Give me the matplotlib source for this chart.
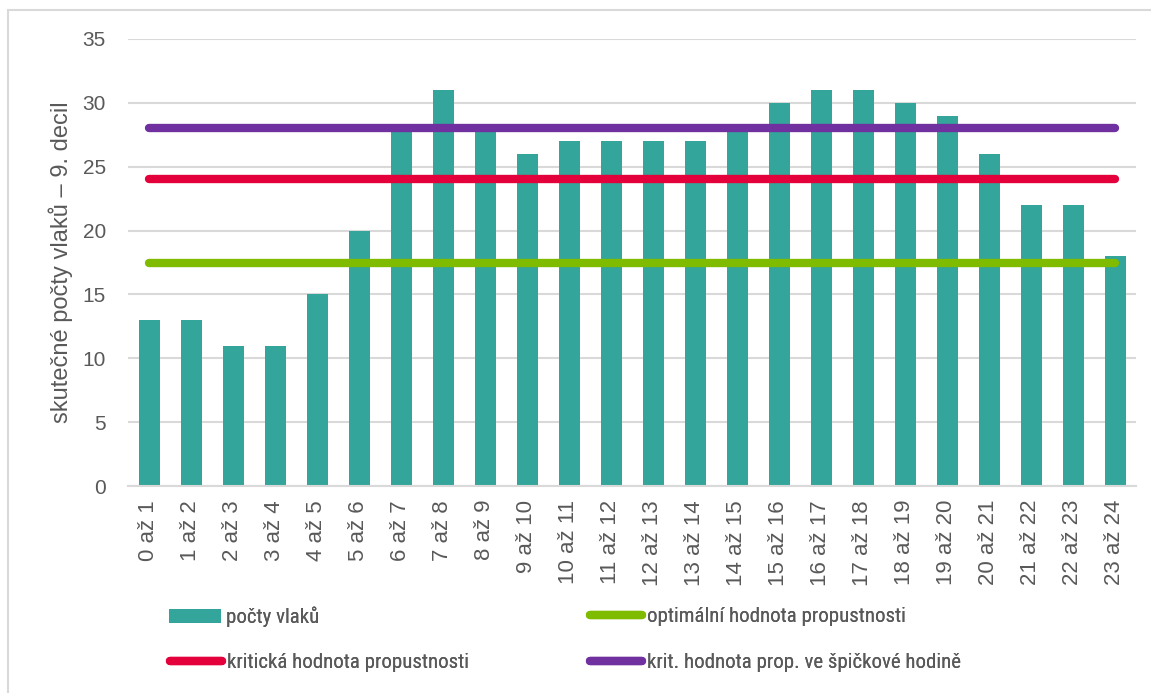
import matplotlib
matplotlib.use("Agg")
import matplotlib.pyplot as plt
from matplotlib.lines import Line2D
from matplotlib.patches import Patch, Rectangle
from matplotlib import font_manager

hours = ["0 až 1", "1 až 2", "2 až 3", "3 až 4", "4 až 5", "5 až 6", "6 až 7", "7 až 8",
         "8 až 9", "9 až 10", "10 až 11", "11 až 12", "12 až 13", "13 až 14", "14 až 15",
         "15 až 16", "16 až 17", "17 až 18", "18 až 19", "19 až 20", "20 až 21", "21 až 22",
         "22 až 23", "23 až 24"]
train_counts = [13, 13, 11, 11, 15, 20, 28, 31, 28, 26, 27, 27, 27, 27, 28,
                30, 31, 31, 30, 29, 26, 22, 22, 18]
optimal_capacity = 17.5
critical_capacity = 24
peak_critical_capacity = 28
y_ticks = [0, 5, 10, 15, 20, 25, 30, 35]

names = {f.name for f in font_manager.fontManager.ttflist}
narrow = "Roboto"
for cand in ["Liberation Sans Narrow", "Roboto Condensed", "DejaVu Sans Condensed"]:
    if cand in names:
        narrow = cand
        break

plt.rcParams["font.family"] = ["Liberation Sans", "DejaVu Sans"]

teal = "#34A59A"
green = "#7FBC00"
red = "#E4003A"
purple = "#7030A0"
grid = "#D9D9D9"
text_c = "#595959"

W, H = 1151, 693
fig = plt.figure(figsize=(W / 100, H / 100), dpi=100)
ax = fig.add_axes([128 / W, 1 - 486 / H, (1136 - 128) / W, (486 - 39) / H])

# frame around the chart
fig.patches.append(Rectangle((8 / W, -0.05), 1.2, 1 - 10 / H + 0.05,
                             transform=fig.transFigure, fill=False,
                             edgecolor="#D9D9D9", linewidth=1.5))

x = list(range(len(hours)))
ax.bar(x, train_counts, width=0.5, color=teal, zorder=2)

for val, col in [(optimal_capacity, green), (critical_capacity, red),
                 (peak_critical_capacity, purple)]:
    ax.plot([x[0], x[-1]], [val, val], color=col, linewidth=6,
            solid_capstyle="round", zorder=3)

ax.set_xlim(-0.5, len(hours) - 0.5)
ax.set_ylim(0, 35)
ax.set_yticks(y_ticks)
ax.set_yticklabels([str(v) for v in y_ticks])
ax.yaxis.grid(True, color=grid, linewidth=1.5, zorder=0)
ax.set_axisbelow(True)
for s in ["top", "right", "left"]:
    ax.spines[s].set_visible(False)
ax.spines["bottom"].set_color(grid)
ax.spines["bottom"].set_linewidth(1.5)
ax.tick_params(axis="both", length=0, labelcolor=text_c)
ax.tick_params(axis="y", pad=16, labelsize=15)
ax.tick_params(axis="x", pad=10, labelsize=16)
ax.set_xticks(x)
ax.set_xticklabels(hours, rotation=90)
ax.set_ylabel("skutečné počty vlaků – 9. decil", fontsize=17, color=text_c, labelpad=7)

# legend entries laid out in two columns and two rows
entries = [
    (Patch(facecolor=teal, edgecolor="none"), "počty vlaků", 169, 617),
    (Line2D([0], [0], color=green, linewidth=6, solid_capstyle="round"),
     "optimální hodnota propustnosti", 590, 617),
    (Line2D([0], [0], color=red, linewidth=6, solid_capstyle="round"),
     "kritická hodnota propustnosti", 170, 663),
    (Line2D([0], [0], color=purple, linewidth=6, solid_capstyle="round"),
     "krit. hodnota prop. ve špičkové hodině", 590, 663),
]
for handle, label, px, py in entries:
    leg = fig.legend([handle], [label], frameon=False, loc="center left",
                     bbox_to_anchor=(px / W, 1 - py / H), borderpad=0,
                     borderaxespad=0, prop={"family": narrow, "size": 15},
                     labelcolor=text_c, handlelength=2.5, handleheight=0.65,
                     handletextpad=0.25)
    fig.add_artist(leg)

fig.savefig("out.png", dpi=100, facecolor="white")
